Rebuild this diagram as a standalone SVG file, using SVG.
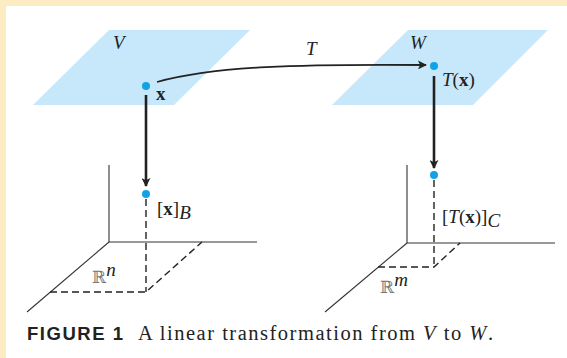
<svg xmlns="http://www.w3.org/2000/svg" width="567" height="358" viewBox="0 0 567 358">
<style>
.plane{fill:#c6e8fa;stroke:none}
.axis{fill:none;stroke:#333;stroke-width:1.1}
.dash{fill:none;stroke:#222;stroke-width:1.4;stroke-dasharray:7,4}
.map{fill:none;stroke:#222;stroke-width:2.6}
.dot{fill:#14a2e6}
.it{font-family:"Liberation Serif",serif;font-style:italic;font-size:19px;fill:#222}
.rm{font-family:"Liberation Serif",serif;font-size:19px;fill:#222}
.bb{font-family:"DejaVu Serif",serif;font-size:17px;fill:#777}
</style>
<defs>
<marker id="ah2" viewBox="0 0 10 10" refX="9" refY="5" markerWidth="9" markerHeight="9" orient="auto" markerUnits="userSpaceOnUse">
<path d="M0,0 L10,5 L0,10 L2.5,5 Z" fill="#222"/>
</marker>
</defs>
<rect x="0" y="0" width="567" height="358" fill="#fdebc2"/>
<rect x="6" y="6" width="561" height="352" fill="#ffffff"/>

<g id="plane-V">
<polygon class="plane" points="109,30 250,30 174,105 33,105"/>
<text class="it" x="113" y="49">V</text>
</g>
<g id="plane-W">
<polygon class="plane" points="408,30 548,30 473,105 332,105"/>
<text class="it" x="410" y="49">W</text>
</g>

<g id="axes-Rn">
<polyline class="axis" points="109,165 109,242 257,242"/>
<line class="axis" x1="109" y1="242" x2="27" y2="312"/>
<polyline class="dash" points="50,292 146,292 202,242"/>
<line class="dash" x1="146" y1="199" x2="146" y2="292"/>
<text x="92" y="283"><tspan class="bb">ℝ</tspan><tspan class="it" font-size="13px" dy="-7" fill="#666">n</tspan></text>
</g>
<g id="axes-Rm">
<polyline class="axis" points="407,165 407,243 555,243"/>
<line class="axis" x1="407" y1="243" x2="325" y2="312"/>
<polyline class="dash" points="378,267 434,267 460,243"/>
<line class="dash" x1="434" y1="180" x2="434" y2="267"/>
<text x="380" y="293"><tspan class="bb">ℝ</tspan><tspan class="it" font-size="13px" dy="-7" fill="#666">m</tspan></text>
</g>

<g id="connectors">
<path d="M157,82 C215,66 300,64 426,65" fill="none" stroke="#222" stroke-width="1.8" marker-end="url(#ah2)"/>
<line class="map" x1="146" y1="95" x2="146" y2="186" marker-end="url(#ah2)"/>
<line class="map" x1="434" y1="76" x2="434" y2="168" marker-end="url(#ah2)"/>
<text class="it" x="306" y="55">T</text>
</g>

<g id="node-x">
<circle class="dot" cx="146" cy="86" r="4"/>
<text class="rm" x="156" y="100" font-weight="bold">x</text>
</g>
<g id="node-Tx">
<circle class="dot" cx="434" cy="66" r="4"/>
<text class="rm" x="442" y="86"><tspan font-style="italic">T</tspan>(<tspan font-weight="bold">x</tspan>)</text>
</g>
<g id="node-xB">
<circle class="dot" cx="146" cy="194" r="4"/>
<text class="rm" x="157" y="215">[<tspan font-weight="bold">x</tspan>]<tspan class="it" font-size="15px" dy="4">B</tspan></text>
</g>
<g id="node-TxC">
<circle class="dot" cx="434" cy="175" r="4"/>
<text class="rm" x="442" y="223">[<tspan font-style="italic">T</tspan>(<tspan font-weight="bold">x</tspan>)]<tspan class="it" font-size="15px" dy="4">C</tspan></text>
</g>

<g id="caption">
<text x="27" y="340" font-family="'Liberation Sans',sans-serif" font-weight="bold" font-size="18.5px" fill="#222" textLength="96" lengthAdjust="spacing">FIGURE 1</text>
<text x="138" y="340" font-family="'Liberation Serif',serif" font-size="20.5px" fill="#222" textLength="355" lengthAdjust="spacing">A linear transformation from <tspan font-style="italic">V</tspan> to <tspan font-style="italic">W</tspan>.</text>
</g>
</svg>
